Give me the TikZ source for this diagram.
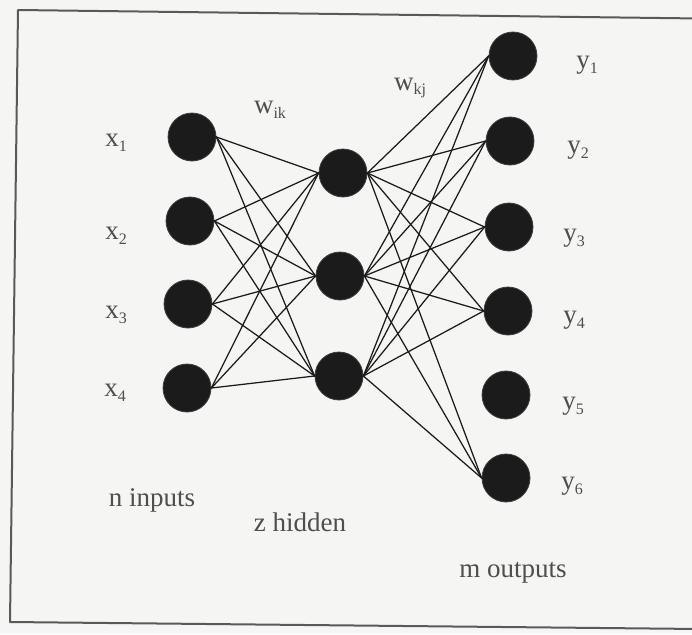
\documentclass[tikz,border=0pt]{standalone}
\usepackage{fontspec}
\setmainfont{Liberation Serif}
\definecolor{paper}{HTML}{F5F5F4}
\definecolor{ink}{HTML}{1B1B1B}
\definecolor{txt}{HTML}{4E4E4E}
\newcommand\sbs[1]{\raisebox{-0.4ex}{\fontsize{16}{16}\selectfont #1}}
\begin{document}
\begin{tikzpicture}[x=1pt, y=-1pt, line join=round, line cap=round,
  neuron/.style={circle, draw=ink!85, fill=ink, line width=0.8pt, minimum size=48pt, inner sep=0pt},
  lbl/.style={text=txt, font=\fontsize{27}{30}\selectfont, inner sep=0pt},
  wire/.style={draw=ink, line width=1.25pt}]
\fill[paper] (0,0) rectangle (692,634);
\useasboundingbox (0,0) rectangle (692,634);
\clip (0,0) rectangle (692,634);
% frame
\draw[black!65, line width=2pt] (700,18.5) -- (18,10) -- (10,622) -- (700,629);
% inputs
\node[neuron] (x1) at (192,137) {};
\node[neuron] (x2) at (190,221) {};
\node[neuron] (x3) at (188,304) {};
\node[neuron] (x4) at (187,388) {};
% hidden
\node[neuron] (h1) at (343,173) {};
\node[neuron] (h2) at (340,276) {};
\node[neuron] (h3) at (339,376) {};
% outputs
\node[neuron] (y1) at (513,56) {};
\node[neuron] (y2) at (510,141) {};
\node[neuron] (y3) at (509,227) {};
\node[neuron] (y4) at (508,311) {};
\node[neuron] (y5) at (506,395) {};
\node[neuron] (y6) at (506,478) {};
% weights
\foreach \i in {1,...,4}
  \foreach \k in {1,2,3}
    \draw[wire] (x\i.east) -- (h\k.west);
\foreach \k in {1,2,3}
  \foreach \j in {1,2,3,4,6}
    \draw[wire] (h\k.east) -- (y\j.west);
% labels
\node[lbl] (lx1) at (116,143) {x\sbs{1}};
\node[lbl] (lx2) at (116,236) {x\sbs{2}};
\node[lbl] (lx3) at (116,315) {x\sbs{3}};
\node[lbl] (lx4) at (115,393) {x\sbs{4}};
\node[lbl] (ly1) at (587,65) {y\sbs{1}};
\node[lbl] (ly2) at (578,150) {y\sbs{2}};
\node[lbl] (ly3) at (574,238) {y\sbs{3}};
\node[lbl] (ly4) at (574,320) {y\sbs{4}};
\node[lbl] (ly5) at (573,406) {y\sbs{5}};
\node[lbl] (ly6) at (572,486) {y\sbs{6}};
\node[lbl] (wik) at (270,110) {w\sbs{ik}};
\node[lbl] (wkj) at (410,88) {w\sbs{kj}};
\node[lbl] (nin) at (152,500) {n inputs};
\node[lbl] (zhid) at (300,522) {z hidden};
\node[lbl] (mout) at (513,573) {m outputs};
\end{tikzpicture}
\end{document}
